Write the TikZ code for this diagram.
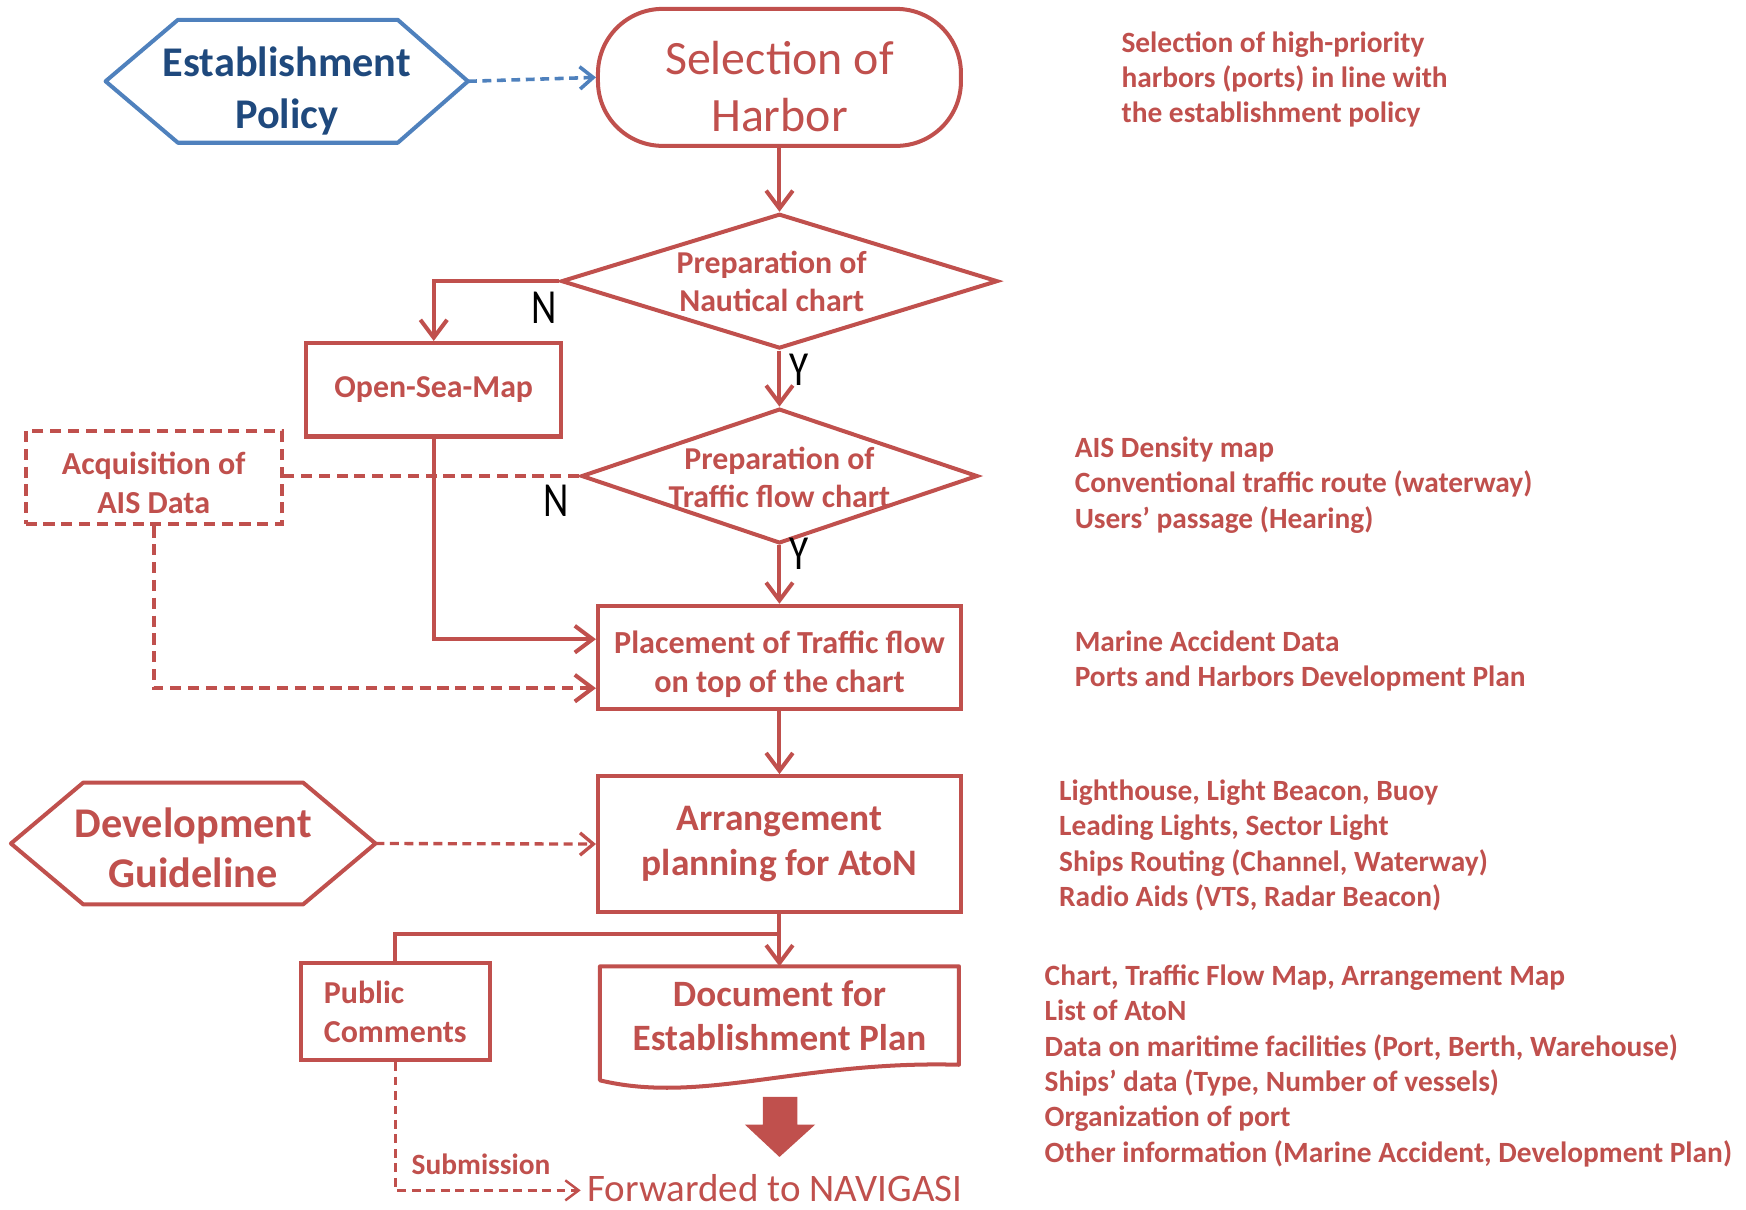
\documentclass[tikz,border=0pt]{standalone}
\usepackage{fontspec}
\usepackage{graphicx}
\setmainfont{Carlito}
\usetikzlibrary{arrows.meta,calc,shapes.geometric}
\definecolor{flowred}{HTML}{C0504D}
\definecolor{flowblue}{HTML}{4F81BD}
\definecolor{navy}{HTML}{1F497D}
\newcommand{\fsz}[2]{\fontsize{#1}{#2}\selectfont}
\newcommand{\narrow}[1]{\scalebox{0.8}[1]{#1}}

\begin{document}
\begin{tikzpicture}[x=1pt,y=-1pt,
  redline/.style={draw=flowred, line width=3.6pt},
  flow/.style={redline, -{Straight Barb[length=16pt,width=24pt]}},
  box/.style={draw=flowred, line width=3.6pt, text=flowred, align=center, inner sep=0pt},
  plain/.style={inner sep=0pt, draw=none, text=flowred, align=center},
  yn/.style={inner sep=0pt, text=black, font=\fsz{44}{46}},
  note/.style={inner sep=0pt, text=flowred, align=left, anchor=north west, font=\fsz{26.4}{31.8}\bfseries},
]
\useasboundingbox (0,0) rectangle (1568,1086);

% ---- top row: policy and harbour selection
\node[plain, minimum width=325pt, minimum height=110pt] (est) at (257.5,73) {};
\draw[flowblue, line width=3.6pt, line join=round] (est.west) -- ([xshift=65pt]est.north west) -- ([xshift=-63pt]est.north east) -- (est.east) -- ([xshift=-63pt]est.south east) -- ([xshift=65pt]est.south west) -- cycle;
\node[plain, text=navy, font=\fsz{38}{47}\bfseries] (estt) at ($(est)+(0,9)$) {Establishment\\Policy};

\node[box, rounded corners=58pt, minimum width=326pt, minimum height=123pt] (sel) at (700,69.5) {};
\node[plain, font=\fsz{43}{51}] (selt) at ($(sel)+(0,8)$) {Selection of\\Harbor};

% ---- decisions
\node[diamond, draw=flowred, line width=3.6pt, minimum width=392pt, minimum height=121pt, inner sep=0pt] (d1) at (700,252.5) {};
\node[plain, font=\fsz{28.6}{34}\bfseries] (d1t) at (693,253) {Preparation of\\Nautical chart};

\node[diamond, draw=flowred, line width=3.6pt, minimum width=356pt, minimum height=121pt, inner sep=0pt] (d2) at (700,427.5) {};
\node[plain, font=\fsz{28.6}{34}\bfseries] (d2t) at (700,429) {Preparation of\\Traffic flow chart};

% ---- process boxes
\node[box, minimum width=229pt, minimum height=84pt, font=\fsz{28.6}{34}\bfseries] (osm) at (389.5,350) {Open-Sea-Map};
\node[box, dash pattern=on 10pt off 6pt, minimum width=230pt, minimum height=84pt] (ais) at (138,429) {};
\node[plain, font=\fsz{28.8}{35}\bfseries] (aist) at ($(ais)+(0,5)$) {Acquisition of\\AIS Data};
\node[box, minimum width=326pt, minimum height=93pt] (place) at (700,590.5) {};
\node[plain, font=\fsz{28.9}{35}\bfseries] (placet) at ($(place)+(0,6)$) {Placement of Traffic flow\\on top of the chart};
\node[box, minimum width=326pt, minimum height=122pt, font=\fsz{33.6}{40}\bfseries] (arr) at (700,758) {Arrangement\\planning for AtoN};

\node[plain, minimum width=327pt, minimum height=109pt] (dev) at (173.5,757.5) {};
\draw[redline, line join=round] (dev.west) -- ([xshift=65pt]dev.north west) -- ([xshift=-65pt]dev.north east) -- (dev.east) -- ([xshift=-65pt]dev.south east) -- ([xshift=65pt]dev.south west) -- cycle;
\node[plain, font=\fsz{38}{45}\bfseries] (devt) at ($(dev)+(0,4)$) {Development\\Guideline};

\node[box, minimum width=170pt, minimum height=87pt, align=left, font=\fsz{28.7}{35}\bfseries] (pub) at (355,908.5) {Public\\Comments};

\node[plain, minimum width=322pt, minimum height=88pt, font=\fsz{33.4}{39}\bfseries] (doc) at (700,912) {Document for\\Establishment Plan};
\draw[redline, line join=round] (doc.south east) -- (doc.north east) -- (doc.north west) -- ($(doc.south west)+(0,14)$)
  .. controls ($(doc.south)+(-70,36)$) and ($(doc.south)+(20,-4)$) .. (doc.south east) -- cycle;

% ---- output arrow and destination
\fill[flowred] (685,985) -- (716,985) -- (716,1010) -- (732,1010) -- (700,1039) -- (669,1010) -- (685,1010) -- cycle;
\node[plain, inner xsep=6pt, inner ysep=0pt, font=\fsz{35}{40}] (fwd) at (696,1067) {Forwarded to NAVIGASI};
\node[plain, font=\fsz{26.4}{30}\bfseries] (sub) at (432,1046) {Submission};

% ---- connectors
\draw[flowblue, line width=3.2pt, dash pattern=on 8pt off 5pt, -{Straight Barb[length=12pt,width=20pt]}] (est.east) -- (sel.west);
\draw[flow] (sel.south) -- (d1.north);
\draw[flow] (d1.west) -| (osm.north);
\draw[flow] (d1.south) -- (d2.north);
\draw[redline, dash pattern=on 10pt off 6pt] (d2.west) -- (d2.west -| ais.east);
\draw[flow] (osm.south) |- ([yshift=16.5pt]place.west);
\draw[flow, dash pattern=on 10pt off 6pt] (ais.south) |- ([yshift=-27.5pt]place.west);
\draw[flow] (d2.south) -- (place.north);
\draw[flow] (place.south) -- (arr.north);
\draw[flowred, line width=3pt, dash pattern=on 8pt off 5pt, -{Straight Barb[length=12pt,width=20pt]}] (dev.east) -- (arr.west);
\coordinate (split) at ($(arr.south)+(0,18)$);
\draw[flow] (arr.south) -- (doc.north);
\draw[redline] (split) -| (pub.north);
\draw[flowred, line width=2.2pt, dash pattern=on 8pt off 5pt, -{Straight Barb[length=12pt,width=18pt]}] (pub.south) |- ([yshift=-2pt]fwd.west);

% ---- branch labels
\node[yn] (n1) at (489,276) {\narrow{N}};
\node[yn] (y1) at (718,332) {\narrow{Y}};
\node[yn] (n2) at (499,450) {\narrow{N}};
\node[yn] (y2) at (718,497) {\narrow{Y}};

% ---- side notes
\node[note] (t1) at (1007,28) {Selection of high-priority\\harbors (ports) in line with\\the establishment policy};
\node[note] (t2) at (965,392) {AIS Density map\\Conventional traffic route (waterway)\\Users’ passage (Hearing)};
\node[note] (t3) at (965,566) {Marine Accident Data\\Ports and Harbors Development Plan};
\node[note] (t4) at (951,700) {Lighthouse, Light Beacon, Buoy\\Leading Lights, Sector Light\\Ships Routing (Channel, Waterway)\\Radio Aids (VTS, Radar Beacon)};
\node[note] (t5) at (938,866) {Chart, Traffic Flow Map, Arrangement Map\\List of AtoN\\Data on maritime facilities (Port, Berth, Warehouse)\\Ships’ data (Type, Number of vessels)\\Organization of port\\Other information (Marine Accident, Development Plan)};
\end{tikzpicture}
\end{document}
